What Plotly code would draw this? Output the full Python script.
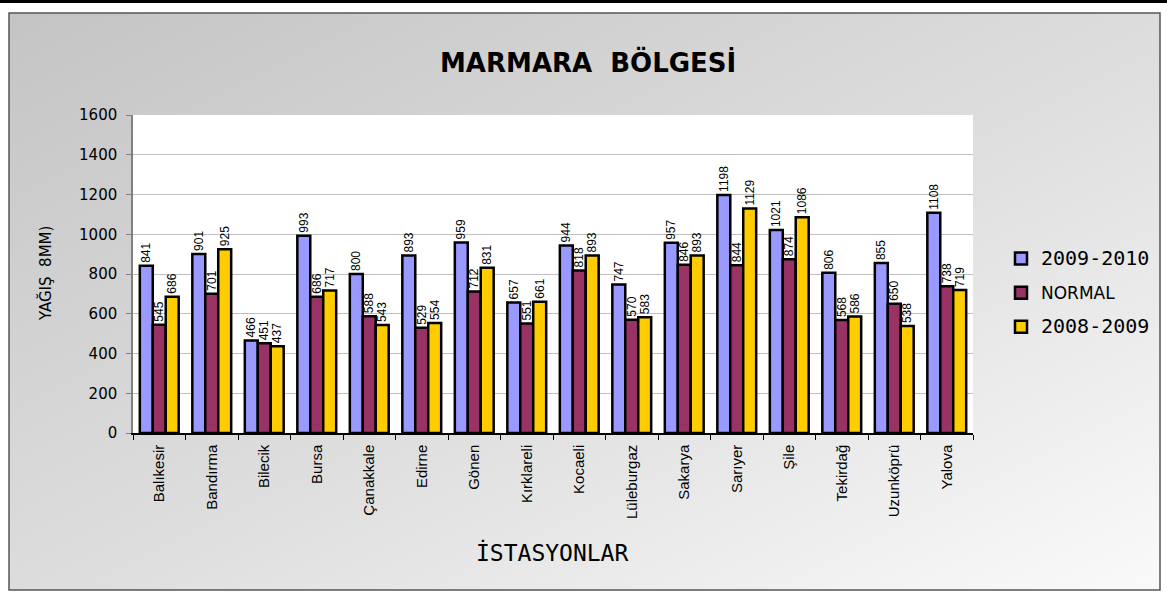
import base64
import plotly.graph_objects as go

stations = ["Balıkesir", "Bandırma", "Bilecik", "Bursa", "Çanakkale", "Edirne", "Gönen",
            "Kırklareli", "Kocaeli", "Lüleburgaz", "Sakarya", "Sarıyer", "Şile", "Tekirdağ",
            "Uzunköprü", "Yalova"]
s_2009_2010 = [841, 901, 466, 993, 800, 893, 959, 657, 944, 747, 957, 1198, 1021, 806, 855, 1108]
s_normal = [545, 701, 451, 686, 588, 529, 712, 551, 818, 570, 846, 844, 874, 568, 650, 738]
s_2008_2009 = [686, 925, 437, 717, 543, 554, 831, 661, 893, 583, 893, 1129, 1086, 586, 538, 719]
series_names = ["2009-2010", "NORMAL", "2008-2009"]
colors = ["#9999FF", "#993366", "#FFCC00"]

W, H = 1167, 594
L, R, T, B = 133, 973, 115, 433


def px(x):
    return (x - L) / (R - L)


def py(y):
    return (B - y) / (B - T)


MONO = "font-family:'DejaVu Sans Mono';font-size:20px"
legend_labels = {
    "2009-2010": f"<span style=\"{MONO}\">2009-2010</span>",
    "NORMAL": "NORMAL",
    "2008-2009": f"<span style=\"{MONO}\">2008-2009</span>",
}

fig = go.Figure()
for name, vals, col in zip(series_names, [s_2009_2010, s_normal, s_2008_2009], colors):
    fig.add_trace(go.Bar(
        x=stations, y=vals, name=legend_labels[name], legendgroup=name,
        marker=dict(color=col, line=dict(color="black", width=2.5)),
        text=[str(v) for v in vals], textposition="outside", textangle=-90,
        constraintext="none",
        textfont=dict(family="Liberation Sans, Arial", size=12, color="black"),
        cliponaxis=False,
    ))

svg = ('<svg xmlns="http://www.w3.org/2000/svg" width="100" height="100" preserveAspectRatio="none">'
       '<defs><linearGradient id="g" x1="0" y1="0" x2="1" y2="1">'
       '<stop offset="0" stop-color="#c4c4c4"/><stop offset="0.55" stop-color="#dfdfdf"/>'
       '<stop offset="1" stop-color="#fafafa"/></linearGradient></defs>'
       '<rect width="100" height="100" fill="url(#g)"/></svg>')
uri = "data:image/svg+xml;base64," + base64.b64encode(svg.encode()).decode()

bx0, bx1, by0, by1 = 9, 1160, 13, 590
fig.add_layout_image(dict(source=uri, xref="paper", yref="paper", x=px(bx0), y=py(by0),
                          sizex=px(bx1) - px(bx0), sizey=py(by0) - py(by1), sizing="stretch",
                          layer="below", xanchor="left", yanchor="top"))

shapes = [
    dict(type="rect", xref="paper", yref="paper", x0=px(bx0), x1=px(bx1), y0=py(by1), y1=py(by0),
         line=dict(color="#555555", width=1.5), fillcolor="rgba(0,0,0,0)", layer="below"),
    dict(type="rect", xref="paper", yref="paper", x0=0, x1=1, y0=0, y1=1,
         line=dict(width=0), fillcolor="white", layer="below"),
    dict(type="line", xref="paper", yref="paper", x0=px(0), x1=px(W), y0=py(1.5), y1=py(1.5),
         line=dict(color="black", width=3)),
]

annotations = [
    dict(text="<b>MARMARA  BÖLGESİ</b>", xref="paper", yref="paper", x=px(588), y=py(62),
         xanchor="center", yanchor="middle",
         showarrow=False, font=dict(family="DejaVu Sans", size=26, color="black")),
    dict(text="YAĞIŞ\u00a0\u00a08MM)", xref="paper", yref="paper", x=px(45), y=py(274), textangle=-90,
         xanchor="center", yanchor="middle",
         showarrow=False, font=dict(family="DejaVu Sans", size=15, color="black")),
    dict(text="İSTASYONLAR", xref="paper", yref="paper", x=px(552), y=py(552),
         xanchor="center", yanchor="middle",
         showarrow=False, font=dict(family="DejaVu Sans Mono", size=23, color="black")),
]

fig.update_layout(
    width=W, height=H,
    margin=dict(l=L, r=W - R, t=T, b=H - B, pad=0, autoexpand=False),
    paper_bgcolor="white", plot_bgcolor="white",
    barmode="group", bargap=0.26, bargroupgap=0,
    shapes=shapes, annotations=annotations,
    legend=dict(x=px(1001), y=py(241), xanchor="left", yanchor="top",
                font=dict(family="DejaVu Sans", size=17, color="black"),
                bgcolor="rgba(0,0,0,0)", tracegroupgap=9, itemwidth=30),
    xaxis=dict(showline=True, linecolor="black", linewidth=1.5, ticks="outside",
               tickson="boundaries", ticklen=5, tickcolor="black", tickangle=-90,
               ticklabelstandoff=4, automargin=False,
               tickfont=dict(family="Liberation Sans, Arial", size=15, color="black"),
               mirror=False),
    yaxis=dict(range=[0, 1600], dtick=200, showgrid=True, gridcolor="#c0c0c0", gridwidth=1,
               showline=True, linecolor="#808080", linewidth=1.5, ticks="outside", ticklen=5,
               tickcolor="#808080", ticklabelstandoff=6, automargin=False,
               tickfont=dict(family="DejaVu Sans", size=15, color="black"), zeroline=False),
)

fig.write_html("out.html", config={"displayModeBar": False},
               post_script="document.body.style.margin='0';")
